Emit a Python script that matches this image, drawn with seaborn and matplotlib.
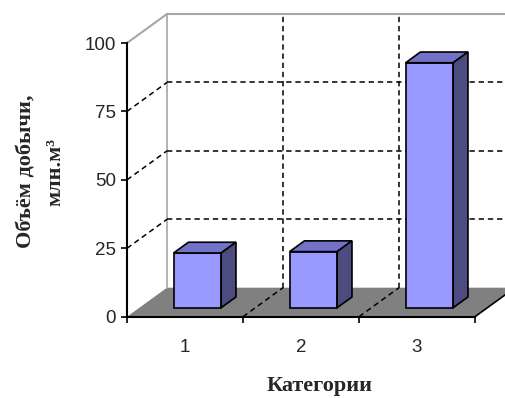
"""Столбчатая диаграмма в стиле Excel 3D: объём добычи по категориям."""

import matplotlib

matplotlib.use("Agg")
import matplotlib.pyplot as plt
import numpy as np
import pandas as pd
import seaborn as sns
from matplotlib.patches import Polygon

# Данные диаграммы
categories = ["1", "2", "3"]
values = [20, 20.5, 89.5]
y_ticks = [0, 25, 50, 75, 100]
y_label_line1 = "Объём добычи,"
y_label_line2 = "млн.м³"
x_label = "Категории"

# Размеры холста и области построения в пикселях
W, H = 505, 398
LEFT, RIGHT, TOP, BOTTOM = 127, 475, 43, 316.7
DEPTH_PX = (40, 29)          # сдвиг задней стенки
BAR_FRONT, BAR_DEPTH = 0.31, 0.37  # положение столбца по глубине (доли)

FRONT = "#9999FF"
TOP_FACE = "#7272C8"
SIDE = "#4C4C80"
FLOOR = "#808080"
WALL_EDGE = "#a6a6a6"

sns.set_theme(style="white")
plt.rcParams["font.family"] = ["Liberation Sans", "DejaVu Sans"]

fig = plt.figure(figsize=(W / 100, H / 100), dpi=100)
ax = fig.add_axes([LEFT / W, (H - BOTTOM) / H, (RIGHT - LEFT) / W, (BOTTOM - TOP) / H])

frame = pd.DataFrame({"cat": categories, "value": values})
sns.barplot(data=frame, x="cat", y="value", width=0.41, color=FRONT,
            saturation=1, edgecolor="black", linewidth=1.2, ax=ax, zorder=5)

ax.set_xlim(-0.5, len(categories) - 0.5)
ax.set_ylim(0, 100)

# перевод пиксельного сдвига глубины в единицы данных
px_x = (RIGHT - LEFT) / len(categories)
px_y = (BOTTOM - TOP) / 100
DX, DY = DEPTH_PX[0] / px_x, DEPTH_PX[1] / px_y
x0, x1 = -0.5, len(categories) - 0.5

# пол
ax.add_patch(Polygon([(x0, 0), (x1, 0), (x1 + DX, DY), (x0 + DX, DY)],
                     closed=True, facecolor=FLOOR, edgecolor="none",
                     clip_on=False, zorder=1))
ax.plot([x1, x1 + DX], [0, DY], color="black", lw=1.2, clip_on=False, zorder=2)

# стенки
ax.plot([x0, x0 + DX, x1 + DX + 0.2], [100, 100 + DY, 100 + DY],
        color=WALL_EDGE, lw=1.5, clip_on=False, zorder=2)
ax.plot([x0 + DX, x0 + DX], [DY, 100 + DY], color=WALL_EDGE, lw=1.2,
        clip_on=False, zorder=2)

grid_kw = dict(color="black", lw=1.1, ls=(0, (3.5, 2.5)), clip_on=False, zorder=2)
for v in y_ticks[1:-1]:
    ax.plot([x0, x0 + DX], [v, v + DY], **grid_kw)
    ax.plot([x0 + DX, x1 + DX + 0.2], [v + DY, v + DY], **grid_kw)
for b in np.arange(x0 + 1, x1):
    ax.plot([b, b + DX], [0, DY], **grid_kw)
    ax.plot([b + DX, b + DX], [DY, 100 + DY], **grid_kw)

# объёмные столбцы: сдвигаем переднюю грань и дорисовываем верх и бок
for p in ax.patches:
    if not isinstance(p, matplotlib.patches.Rectangle):
        continue
    w, h = p.get_width(), p.get_height()
    bx = p.get_x() + BAR_FRONT * DX
    by = BAR_FRONT * DY
    p.set_x(bx)
    p.set_y(by)
    p.set_clip_on(False)
    ddx, ddy = BAR_DEPTH * DX, BAR_DEPTH * DY
    top = [(bx, by + h), (bx + w, by + h), (bx + w + ddx, by + h + ddy), (bx + ddx, by + h + ddy)]
    side = [(bx + w, by), (bx + w + ddx, by + ddy), (bx + w + ddx, by + h + ddy), (bx + w, by + h)]
    for pts, fc in ((top, TOP_FACE), (side, SIDE)):
        ax.add_patch(Polygon(pts, closed=True, facecolor=fc, edgecolor="black",
                             lw=1.2, clip_on=False, zorder=5))

# оси
for s in ("top", "right"):
    ax.spines[s].set_visible(False)
for s in ("left", "bottom"):
    ax.spines[s].set_color("black")
    ax.spines[s].set_linewidth(1.5)
    ax.spines[s].set_zorder(6)

ax.set_yticks(y_ticks)
ax.tick_params(axis="y", direction="out", length=4, width=1.2, color="black",
               labelsize=13.5, pad=4, left=True)
ax.set_xticks(range(len(categories)))
ax.set_xticklabels(categories)
ax.set_xticks(np.arange(x0, x1 + 0.5), minor=True)
ax.tick_params(axis="x", which="major", length=0, labelsize=13.5, pad=16)
ax.tick_params(axis="x", which="minor", direction="out", length=4, width=1.2,
               color="black", bottom=True)
ax.set_xlabel("")
ax.set_ylabel("")

serif = ["Liberation Serif", "DejaVu Serif"]
fig.text(27 / W, 1 - 171 / H, y_label_line1, rotation=90, ha="center", va="center",
         fontsize=16, fontweight="bold", family=serif)
fig.text(55 / W, 1 - 172 / H, y_label_line2, rotation=90, ha="center", va="center",
         fontsize=16, fontweight="bold", family=serif)
fig.text(320 / W, 1 - 386 / H, x_label, ha="center", va="center",
         fontsize=16, fontweight="bold", family=serif)

fig.savefig("out.png", dpi=100)
